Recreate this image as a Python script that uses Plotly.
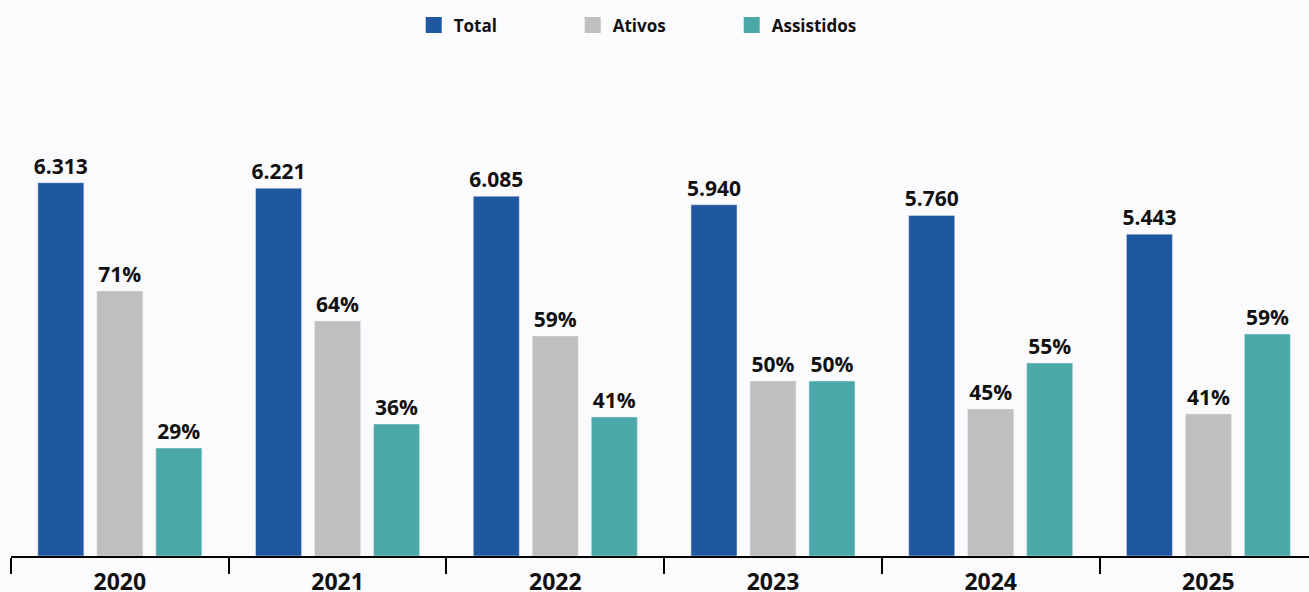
import plotly.graph_objects as go

# ---- data ----
years = ["2020", "2021", "2022", "2023", "2024", "2025"]
total = [6313, 6221, 6085, 5940, 5760, 5443]
ativos_pct = [71, 64, 59, 50, 45, 41]
assistidos_pct = [29, 36, 41, 50, 55, 59]
# bar heights of the Ativos / Assistidos columns (same units as Total)
ativos_bar = [4482, 3974, 3721, 2960, 2486, 2401]
assistidos_bar = [1826, 2232, 2351, 2960, 3264, 3754]

series_names = ["Total", "Ativos", "Assistidos"]
colors = ["#1f57a0", "#c0bebf", "#4aa9a8"]

FONT = "Open Sans"
label_font = dict(family=FONT, size=21, color="#111111", weight="bold")

def fmt_thousands(v):
    return f"{v:,}".replace(",", ".")

fig = go.Figure()

fig.add_trace(go.Bar(
    x=years, y=total, name=series_names[0], marker_color=colors[0],
    text=[fmt_thousands(v) for v in total], textposition="outside",
    textfont=label_font, cliponaxis=False, showlegend=False,
    constraintext="none",
))
fig.add_trace(go.Bar(
    x=years, y=ativos_bar, name=series_names[1], marker_color=colors[1],
    text=[f"{v}%" for v in ativos_pct], textposition="outside",
    textfont=label_font, cliponaxis=False, showlegend=False,
    constraintext="none",
))
fig.add_trace(go.Bar(
    x=years, y=assistidos_bar, name=series_names[2], marker_color=colors[2],
    text=[f"{v}%" for v in assistidos_pct], textposition="outside",
    textfont=label_font, cliponaxis=False, showlegend=False,
    constraintext="none",
))

# legend entries (larger square swatches)
for n, c in zip(series_names, colors):
    fig.add_trace(go.Scatter(
        x=[None], y=[None], mode="markers", name=n,
        marker=dict(symbol="square", size=16, color=c),
        showlegend=True,
    ))

fig.update_layout(
    width=1309, height=592, autosize=False,
    margin=dict(l=11, r=0, t=60, b=36, autoexpand=False),
    paper_bgcolor="#fbfbfd", plot_bgcolor="#fbfbfd",
    barmode="group", bargap=0.187, bargroupgap=0.22,
    font=dict(family=FONT, color="#111111"),
    hovermode=False,
    legend=dict(
        orientation="h", x=0.494, xanchor="center",
        yref="container", y=1 - 25.5 / 592, yanchor="middle",
        font=dict(family=FONT, size=17, color="#111111", weight="bold"),
        itemsizing="trace", entrywidth=114, bgcolor="rgba(0,0,0,0)",
    ),
    xaxis=dict(
        type="category", range=[-0.5, 5.462],
        showline=True, linecolor="#000000", linewidth=2,
        ticks="outside", tickson="boundaries", ticklen=16, tickwidth=1.5,
        tickcolor="#000000", showgrid=False, zeroline=False,
        tickfont=dict(family=FONT, size=23, color="#111111", weight="bold"),
        ticklabelstandoff=4, automargin=False,
        fixedrange=True,
    ),
    yaxis=dict(
        range=[0, 8388], visible=False, showgrid=False, zeroline=False,
        fixedrange=True, automargin=False,
    ),
)

fig.write_html(
    "out.html",
    config={"displayModeBar": False},
    post_script="document.body.style.margin='0';document.body.style.background='#fbfbfd';",
)
